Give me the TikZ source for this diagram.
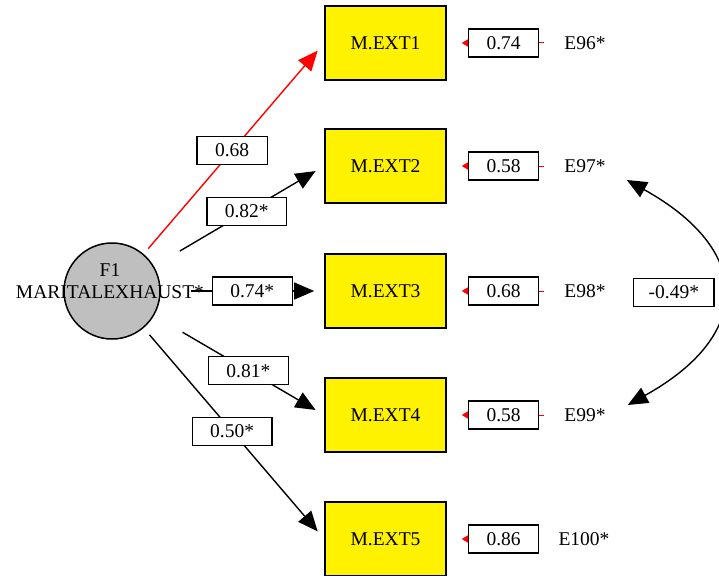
\documentclass[tikz,border=0pt]{standalone}
\usepackage{fontspec}
\setmainfont{Liberation Serif}
\usepackage{tikz}
\usetikzlibrary{arrows.meta,positioning}

\begin{document}
\begin{tikzpicture}[x=1pt,y=-1pt,>={Triangle[length=20pt,width=17pt]},
  font=\fontsize{19.5}{22}\selectfont,
  factor/.style={circle,draw,line width=1.5pt,fill=black!25,minimum size=96pt},
  var/.style={rectangle,draw,line width=1.6pt,fill=yellow,minimum width=121pt,minimum height=74pt},
  weight/.style={rectangle,draw=black,text=black,line width=1.4pt,fill=white,inner xsep=18pt,inner ysep=0pt,minimum height=28pt},
  load/.style={->,line width=1.4pt,shorten >=10pt},
  errline/.style={-{Triangle[length=6pt,width=7pt]},red,line width=1pt,shorten <=20pt,shorten >=15pt}]
  \useasboundingbox (0,0) rectangle (719,575);
  \clip (0,0) rectangle (719,575);

  \node[factor] (F1) at (112,291) {};
  \node[align=center] (F1name) at (110,281) {F1\\MARITALEXHAUST*};

  \node[var] (M1) at (385.5,43) {M.EXT1};
  \node[var] (M2) at (385.5,166) {M.EXT2};
  \node[var] (M3) at (385.5,291) {M.EXT3};
  \node[var] (M4) at (385.5,415) {M.EXT4};
  \node[var] (M5) at (385.5,539) {M.EXT5};

  \node[inner sep=0pt] (E96) at (585,43) {E96*};
  \node[inner sep=0pt] (E97) at (585,166) {E97*};
  \node[inner sep=0pt] (E98) at (585,291) {E98*};
  \node[inner sep=0pt] (E99) at (585,415) {E99*};
  \node[inner sep=0pt] (E100) at (584,539) {E100*};

  % loadings
  \draw[load,red,shorten <=7pt] (F1) -- node[weight,pos=.49] {0.68} (M1.west);
  \draw[load,shorten <=30pt] (F1) -- node[weight,pos=.545] {0.82*} (M2.west);
  \draw[load,shorten <=30pt] (F1) -- node[weight,pos=.56] {0.74*} (M3.west);
  \draw[load,shorten <=33pt] (F1) -- node[weight,pos=.554] {0.81*} (M4.west);
  \draw[load,shorten <=9pt] (F1) -- node[weight,pos=.49] {0.50*} (M5.west);

  % errors
  \draw[errline] (E96) -- (M1);
  \draw[errline] (E97) -- (M2);
  \draw[errline] (E98) -- (M3);
  \draw[errline] (E99) -- (M4);
  \draw[errline] (E100) -- (M5);
  \node[weight,right=21pt of M1] (D1) {0.74};
  \node[weight,right=21pt of M2] (D2) {0.58};
  \node[weight,right=21pt of M3] (D3) {0.68};
  \node[weight,right=21pt of M4] (D4) {0.58};
  \node[weight,right=21pt of M5] (D5) {0.86};

  % covariance
  \draw[<->,line width=1.4pt] ([shift={(21,14)}]E97.east) .. controls +(126,70) and +(126,-70) .. ([shift={(22,-10)}]E99.east)
    node[weight,inner xsep=15pt,pos=.5,left=7pt] {-0.49*};
\end{tikzpicture}
\end{document}
